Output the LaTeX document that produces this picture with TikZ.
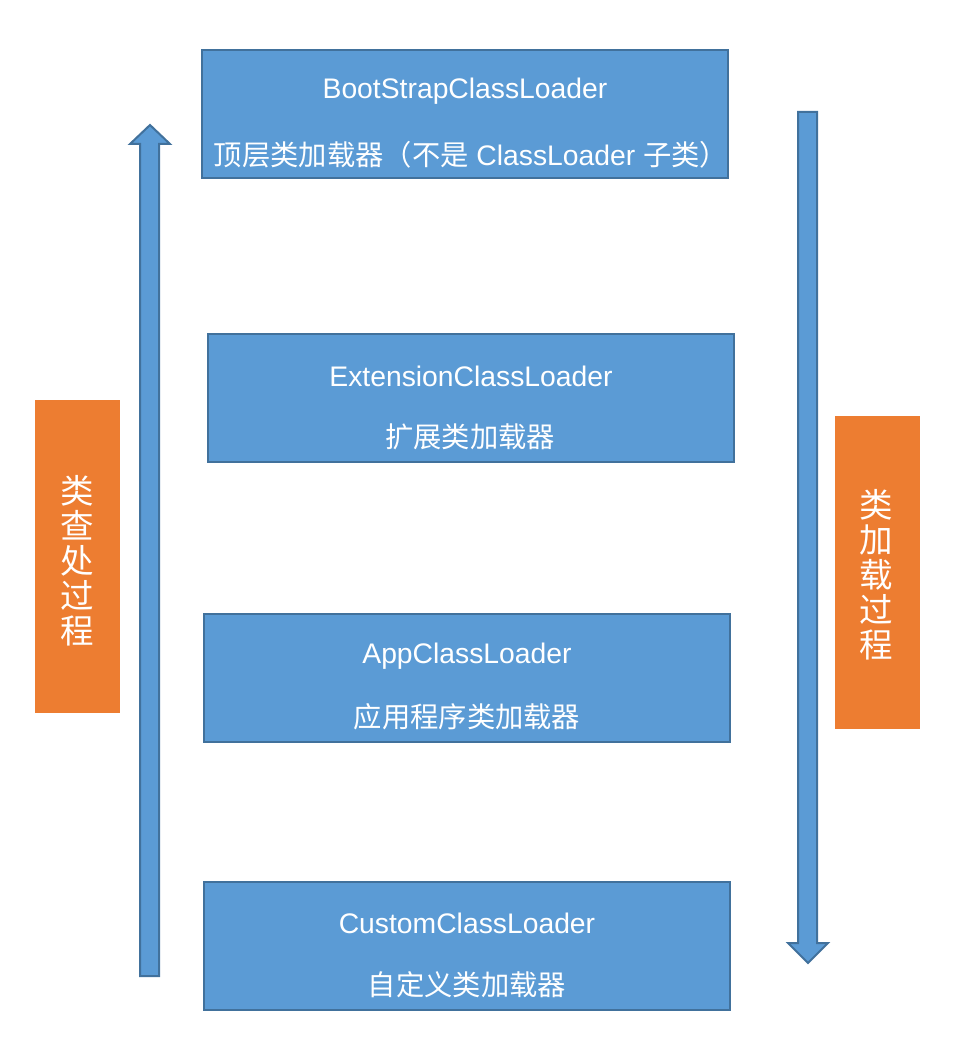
\documentclass[tikz,border=0pt]{standalone}
\usepackage{fontspec}
\setmainfont{Liberation Sans}
\newfontfamily\cjk{Noto Sans CJK SC}
\definecolor{boxblue}{HTML}{5B9BD5}
\definecolor{edgeblue}{HTML}{41719C}
\definecolor{boxorange}{HTML}{ED7D31}
\begin{document}
\begin{tikzpicture}[x=1pt,y=-1pt,
  bluebox/.style={draw=edgeblue,line width=1.5pt,fill=boxblue,minimum width=526pt,minimum height=128pt,inner sep=0pt},
  orangebox/.style={fill=boxorange,minimum width=85pt,minimum height=313pt,inner sep=0pt},
  label/.style={text=white,font=\fontsize{28.3}{30}\selectfont,inner sep=0pt,anchor=center},
  vlabel/.style={text=white,font=\cjk\fontsize{33.5}{35}\selectfont,align=center,inner sep=0pt},
  bigarrow/.style={draw=edgeblue,line width=2pt,fill=boxblue,line join=miter}]
\useasboundingbox (0,0) rectangle (960,1056);
% blue boxes
\node[bluebox] (boot) at (465,114) {};
\node[bluebox] (ext) at (471,398) {};
\node[bluebox] (app) at (467,678) {};
\node[bluebox] (cust) at (467,946) {};
% texts
\node[label] (boot1) at (465,91) {BootStrapClassLoader};
\node[label] (boot2) at (471,155) {{\cjk 顶层类加载器（不是} ClassLoader {\cjk 子类）}};
\node[label] (ext1) at (471,376) {ExtensionClassLoader};
\node[label] (ext2) at (470,437) {\cjk 扩展类加载器};
\node[label] (app1) at (467,656) {AppClassLoader};
\node[label] (app2) at (467,717) {\cjk 应用程序类加载器};
\node[label] (cust1) at (467,923) {CustomClassLoader};
\node[label] (cust2) at (467,985) {\cjk 自定义类加载器};
% orange boxes
\node[orangebox] (find) at (77.5,556.5) {};
\node[vlabel] (findt) at (77,561) {类\\查\\处\\过\\程};
\node[orangebox] (load) at (877,572.5) {};
\node[vlabel] (loadt) at (876,575) {类\\加\\载\\过\\程};
% arrows
\path[bigarrow] (140,976) -- (140,144) -- (130,144) -- (150,125) -- (170,144) -- (159,144) -- (159,976) -- cycle;
\path[bigarrow] (798,112) -- (798,943) -- (788,943) -- (808,963) -- (828,943) -- (817,943) -- (817,112) -- cycle;
\end{tikzpicture}
\end{document}
